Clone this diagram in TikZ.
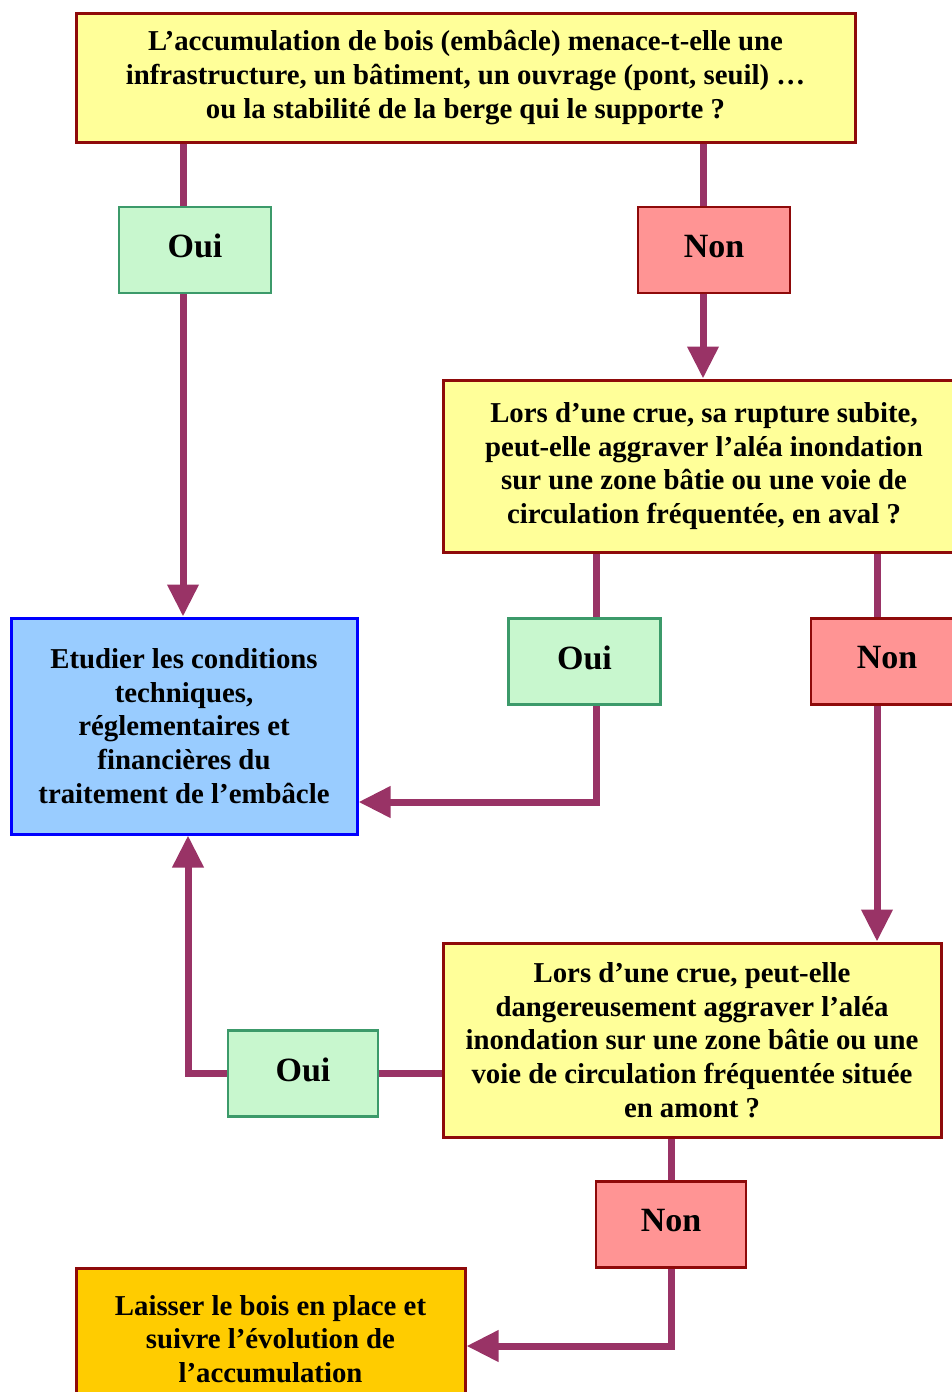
\documentclass[tikz,border=0pt]{standalone}
\usepackage{fontspec}
\setmainfont{Liberation Serif}
\usetikzlibrary{arrows.meta}

\definecolor{jaune}{HTML}{FFFF99}
\definecolor{bordeau}{HTML}{8E0A0A}
\definecolor{vertclair}{HTML}{C8F7CE}
\definecolor{vertbord}{HTML}{3C9A6A}
\definecolor{saumon}{HTML}{FF9494}
\definecolor{bleuclair}{HTML}{99CCFF}
\definecolor{orange}{HTML}{FFCC00}
\definecolor{prune}{HTML}{993366}

\tikzset{
  question/.style={draw=bordeau, line width=1.5pt, fill=jaune, align=center, inner sep=0pt,
    font=\bfseries\fontsize{14.4}{16.8}\selectfont},
  ouibox/.style={draw=vertbord, line width=1.3pt, fill=vertclair, minimum width=76pt, minimum height=43pt,
    inner sep=0pt, text depth=4pt, font=\bfseries\fontsize{17}{20}\selectfont},
  nonbox/.style={ouibox, draw=bordeau, fill=saumon},
  fleche/.style={draw=prune, line width=3.5pt, -{Triangle[length=16pt,width=15pt]}},
  trait/.style={draw=prune, line width=3.5pt}
}

\begin{document}
\begin{tikzpicture}[x=0.5pt,y=-0.5pt]
\useasboundingbox (0,0) rectangle (952,1392);
\clip (0,0) rectangle (952,1392);

\node[question, minimum width=389.5pt, minimum height=64.5pt] (q1) at (465.5,77.5)
  {L’accumulation de bois (embâcle) menace-t-elle une\\
   infrastructure, un bâtiment, un ouvrage (pont, seuil) \dots\\
   ou la stabilité de la berge qui le supporte ?};

\node[ouibox] (oui1) at (195,250) {Oui};
\node[nonbox] (non1) at (714,250) {Non};

\node[question, minimum width=261pt, minimum height=86pt] (q2) at (704,466)
  {Lors d’une crue, sa rupture subite,\\
   peut-elle aggraver l’aléa inondation\\
   sur une zone bâtie ou une voie de\\
   circulation fréquentée, en aval ?};

\node[ouibox] (oui2) at (584.5,661.5) {Oui};
\node[nonbox] (non2) at (887,661.5) {Non};

\node[question, draw=blue, fill=bleuclair, minimum width=173pt, minimum height=108pt] (etude) at (184,726)
  {Etudier les conditions\\
   techniques,\\
   réglementaires et\\
   financières du\\
   traitement de l’embâcle};

\node[question, minimum width=249pt, minimum height=97pt] (q3) at (692,1040)
  {Lors d’une crue, peut-elle\\
   dangereusement aggraver l’aléa\\
   inondation sur une zone bâtie ou une\\
   voie de circulation fréquentée située\\
   en amont ?};

\node[ouibox, minimum width=75pt] (oui3) at (303,1073.5) {Oui};
\node[nonbox, minimum width=75pt] (non3) at (671,1224.5) {Non};

\node[question, fill=orange, minimum width=194.5pt, minimum height=71pt] (laisser) at (270.5,1339)
  {Laisser le bois en place et\\
   suivre l’évolution de\\
   l’accumulation};

\draw[trait] ([xshift=-6pt]oui1.north |- q1.south) -- ([xshift=-6pt]oui1.north);
\draw[fleche] ([xshift=-6pt]oui1.south) -- ([xshift=-6pt]oui1.south |- etude.north);

\draw[trait] ([xshift=-5.5pt]non1.north |- q1.south) -- ([xshift=-5.5pt]non1.north);
\draw[fleche] ([xshift=-5.5pt]non1.south) -- ([xshift=-5.5pt]non1.south |- q2.north);

\draw[trait] ([xshift=5.75pt]oui2.north |- q2.south) -- ([xshift=5.75pt]oui2.north);
\draw[fleche] ([xshift=5.75pt]oui2.south) |- ([yshift=-38pt]etude.east);

\draw[trait] ([xshift=-5pt]non2.north |- q2.south) -- ([xshift=-5pt]non2.north);
\draw[fleche] ([xshift=-5pt]non2.south) -- ([xshift=-5pt]non2.south |- q3.north);

\draw[trait] (q3.west |- oui3.east) -- (oui3.east);
\draw[fleche] (oui3.west) -| ([xshift=2pt]etude.south);

\draw[trait] (non3.north |- q3.south) -- (non3.north);
\draw[fleche] (non3.south) |- ([yshift=-3.5pt]laisser.east);
\end{tikzpicture}
\end{document}
